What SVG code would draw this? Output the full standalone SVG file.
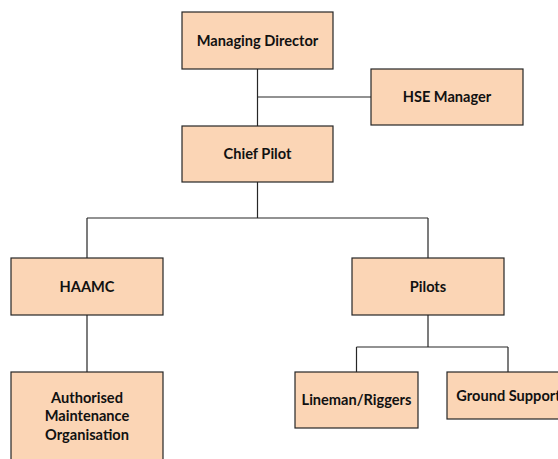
<svg xmlns="http://www.w3.org/2000/svg" width="558" height="459" viewBox="0 0 558 459">
<style>
.box{fill:#FBD5B5;stroke:#262626;stroke-width:1.2}
.lbl{font-family:Lato,"Liberation Sans",sans-serif;font-weight:bold;font-size:14.6px;fill:#111;text-anchor:middle}
.conn{fill:none;stroke:#262626;stroke-width:1.2}
</style>
<rect width="558" height="459" fill="#fff"/>
<g id="connectors" class="conn">
<path d="M257.5 69V126M257.5 97H371"/>
<path d="M257.5 182V218M87 218H428M87 218V258M428 218V258"/>
<path d="M87 315V372"/>
<path d="M428 315V347M356.5 347H508M356.5 347V372M508 347V372"/>
</g>
<g id="managing-director"><rect class="box" x="182" y="12" width="151" height="57"/><text class="lbl" x="257.5" y="45.5">Managing Director</text></g>
<g id="hse-manager"><rect class="box" x="371" y="69" width="152" height="56"/><text class="lbl" x="447" y="102">HSE Manager</text></g>
<g id="chief-pilot"><rect class="box" x="182" y="126" width="151" height="56"/><text class="lbl" x="257.5" y="158.5">Chief Pilot</text></g>
<g id="haamc"><rect class="box" x="11" y="258" width="152" height="57"/><text class="lbl" x="87" y="292">HAAMC</text></g>
<g id="pilots"><rect class="box" x="352" y="258" width="152" height="57"/><text class="lbl" x="428" y="292">Pilots</text></g>
<g id="amo"><rect class="box" x="11" y="372" width="152" height="95"/><text class="lbl" x="87" y="402.5">Authorised<tspan x="87" y="421">Maintenance</tspan><tspan x="87" y="439.5">Organisation</tspan></text></g>
<g id="lineman-riggers"><rect class="box" x="295" y="372" width="123" height="56"/><text class="lbl" x="356.5" y="404.5">Lineman/Riggers</text></g>
<g id="ground-support"><rect class="box" x="447" y="372" width="123" height="47"/><text class="lbl" x="508.5" y="400.5">Ground Support</text></g>
</svg>
